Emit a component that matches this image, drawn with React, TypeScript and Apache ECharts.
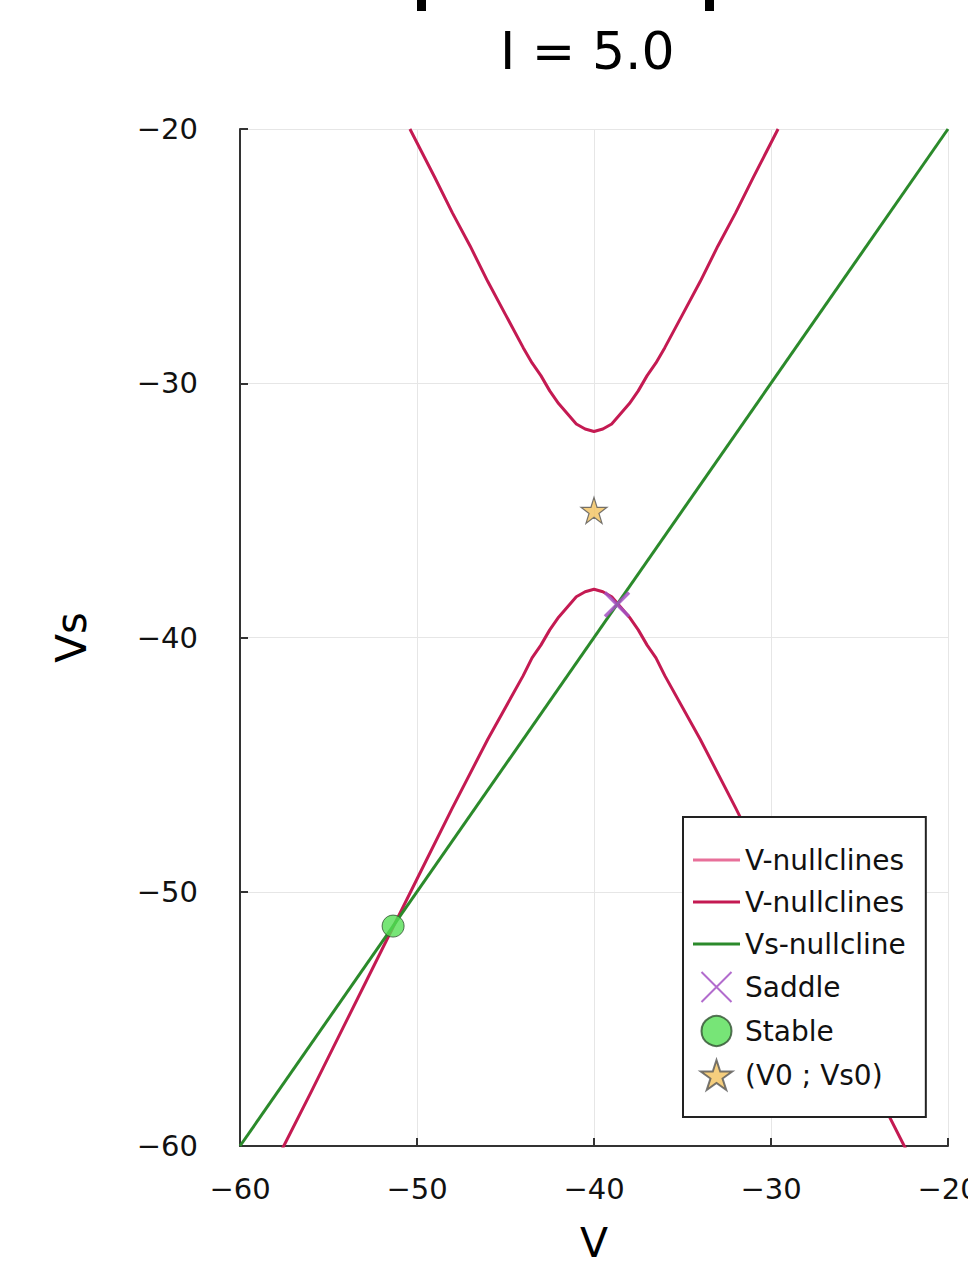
import React, { useEffect, useRef } from "react";
import * as echarts from "echarts";

// ---- data ----
const titleText = "I = 5.0";
const xName = "V";
const yName = "Vs";

// Upper branch of the V-nullcline
const upperV = [-50.4, -49, -48, -47, -46, -45, -44, -43.5, -43, -42.5, -42, -41.5, -41, -40.5, -40, -39.5, -39, -38.5, -38, -37.5, -37, -36.5, -36, -35, -34, -33, -32, -31, -29.6];
const upperVs = [-20.0, -21.9, -23.3, -24.6, -26.0, -27.3, -28.6, -29.2, -29.7, -30.3, -30.8, -31.2, -31.6, -31.8, -31.9, -31.8, -31.6, -31.2, -30.8, -30.3, -29.7, -29.2, -28.6, -27.3, -26.0, -24.6, -23.3, -21.9, -20.0];

// Lower branch of the V-nullcline
const lowerV = [-57.6, -56, -54, -52, -50, -48, -46, -44, -43.5, -43, -42.5, -42, -41.5, -41, -40.5, -40, -39.5, -39, -38.5, -38, -37.5, -37, -36.5, -36, -34, -32, -30, -28, -26, -24, -22.4];
const lowerVs = [-60.1, -57.9, -55.1, -52.3, -49.5, -46.7, -44.0, -41.5, -40.8, -40.3, -39.7, -39.2, -38.8, -38.4, -38.2, -38.1, -38.2, -38.4, -38.8, -39.2, -39.7, -40.3, -40.8, -41.5, -44.0, -46.7, -49.5, -52.3, -55.1, -57.9, -60.1];

// Vs-nullcline (straight line)
const vsNullV = [-60, -20];
const vsNullVs = [-60, -20];

// Fixed points
const saddlePoint = [-38.7, -38.7];
const stablePoint = [-51.35, -51.35];
const initialPoint = [-40, -35];

const legendNames = ["V-nullclines#1", "V-nullclines#2", "Vs-nullcline", "Saddle", "Stable", "(V0 ; Vs0)"];

const FONT = "DejaVu Sans";
const CRIMSON = "#c41a52";
const PINK = "#e8709a";
const GREEN = "#2b8a2b";
const PURPLE = "#a552c4";
const STAR_PATH =
  "path://M50,0 L61.2,34.5 L97.6,34.5 L68.2,55.9 L79.4,90.5 L50,69.1 L20.6,90.5 L31.8,55.9 L2.4,34.5 L38.8,34.5 Z";
const CROSS_PATH = "path://M0,0 L10,10 M10,0 L0,10";
const LINE_ICON = "path://M0,0 L47,0 L47,3 L0,3 Z";

const zip = (a: number[], b: number[]) => a.map((v, i) => [v, b[i]]);

export default function App() {
  const ref = useRef<HTMLDivElement>(null);

  useEffect(() => {
    if (!ref.current) return;
    const chart = echarts.init(ref.current, null, { renderer: "svg" });
    const minus = (v: number) => String(v).replace("-", "\u2212");

    chart.setOption({
      animation: false,
      backgroundColor: "#ffffff",
      textStyle: { fontFamily: FONT },
      title: {
        text: titleText,
        left: 500,
        top: 25,
        padding: 0,
        textStyle: { fontFamily: FONT, fontSize: 52, fontWeight: "normal", color: "#000" },
      },
      grid: { left: 240, top: 129, width: 708, height: 1017, containLabel: false, outerBoundsMode: "none" },
      xAxis: {
        type: "value",
        min: -60,
        max: -20,
        interval: 10,
        name: xName,
        nameLocation: "middle",
        nameGap: 79,
        nameTextStyle: { fontFamily: FONT, fontSize: 41, lineHeight: 36, color: "#000" },
        axisLine: { show: true, onZero: false, lineStyle: { color: "#333", width: 2 } },
        axisTick: { show: true, inside: true, length: 8, lineStyle: { color: "#333", width: 2 } },
        axisLabel: { margin: 28, fontFamily: FONT, fontSize: 29, color: "#111", formatter: minus },
        splitLine: { show: true, lineStyle: { color: "#e6e6e6", width: 1 } },
      },
      yAxis: {
        type: "value",
        min: -60,
        max: -20,
        interval: 10,
        name: yName,
        nameLocation: "middle",
        nameGap: 148,
        nameRotate: 90,
        nameTextStyle: { fontFamily: FONT, fontSize: 42, color: "#000" },
        axisLine: { show: true, onZero: false, lineStyle: { color: "#333", width: 2 } },
        axisTick: { show: true, inside: true, length: 8, lineStyle: { color: "#333", width: 2 } },
        axisLabel: { margin: 42, fontFamily: FONT, fontSize: 29, color: "#111", formatter: minus },
        splitLine: { show: true, lineStyle: { color: "#e6e6e6", width: 1 } },
      },
      legend: {
        orient: "vertical",
        left: 683,
        top: 817,
        padding: [28, 20, 26, 10],
        itemGap: 12,
        itemWidth: 47,
        itemHeight: 30,
        backgroundColor: "#ffffff",
        borderColor: "#222",
        borderWidth: 2,
        borderRadius: 0,
        textStyle: { fontFamily: FONT, fontSize: 28, color: "#111", lineHeight: 30, padding: [0, 0, 0, 0] },
        formatter: (name: string) => name.replace(/#\d$/, ""),
        data: [
          { name: legendNames[0], icon: LINE_ICON, itemStyle: { color: PINK, borderWidth: 0 } },
          { name: legendNames[1], icon: LINE_ICON, itemStyle: { color: CRIMSON, borderWidth: 0 } },
          { name: legendNames[2], icon: LINE_ICON, itemStyle: { color: GREEN, borderWidth: 0 } },
          { name: legendNames[3] },
          { name: legendNames[4] },
          { name: legendNames[5] },
        ],
      },
      series: [
        {
          name: legendNames[0],
          type: "line",
          data: zip(upperV, upperVs),
          smooth: false,
          symbol: "none",
          lineStyle: { color: CRIMSON, width: 3, join: "round" },
          itemStyle: { color: CRIMSON },
        },
        {
          name: legendNames[1],
          type: "line",
          data: zip(lowerV, lowerVs),
          smooth: false,
          symbol: "none",
          lineStyle: { color: CRIMSON, width: 3, join: "round" },
          itemStyle: { color: CRIMSON },
        },
        {
          name: legendNames[2],
          type: "line",
          data: zip(vsNullV, vsNullVs),
          symbol: "none",
          lineStyle: { color: GREEN, width: 3 },
          itemStyle: { color: GREEN },
        },
        {
          name: legendNames[3],
          type: "scatter",
          data: [saddlePoint],
          symbol: CROSS_PATH,
          symbolSize: 24,
          itemStyle: { color: "rgba(0,0,0,0)", borderColor: PURPLE, borderWidth: 3.5, opacity: 0.85 },
          z: 5,
        },
        {
          name: legendNames[4],
          type: "scatter",
          data: [stablePoint],
          symbol: "circle",
          symbolSize: 22,
          itemStyle: { color: "#55de55", borderColor: "#2f4f2f", borderWidth: 1 },
          z: 5,
        },
        {
          name: legendNames[5],
          type: "scatter",
          data: [initialPoint],
          symbol: STAR_PATH,
          symbolSize: 26,
          itemStyle: { color: "#f2c25e", borderColor: "#555", borderWidth: 1.2 },
          z: 5,
        },
      ],
      graphic: [
        { type: "rect", shape: { x: 417, y: 0, width: 9, height: 11 }, style: { fill: "#000" } },
        { type: "rect", shape: { x: 705, y: 0, width: 9, height: 11 }, style: { fill: "#000" } },
      ],
    });

    return () => chart.dispose();
  }, []);

  return (
    <div style={{ position: "absolute", left: 0, top: 0, width: 968, height: 1266, overflow: "hidden", background: "#fff" }}>
      <div ref={ref} style={{ width: 1000, height: 1266 }} />
    </div>
  );
}
